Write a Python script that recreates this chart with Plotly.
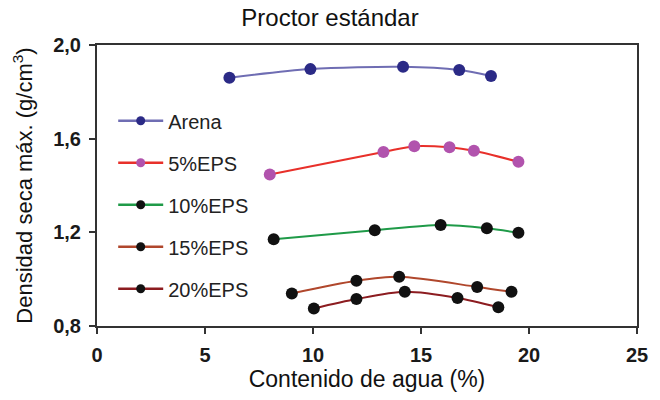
import plotly.graph_objects as go

# Water content (%) and maximum dry density (g/cm3) for each mixture
arena_x = [6.13, 9.88, 14.17, 16.77, 18.24]
arena_y = [1.860, 1.897, 1.907, 1.893, 1.868]

eps5_x = [8.0, 13.26, 14.69, 16.32, 17.45, 19.51]
eps5_y = [1.447, 1.543, 1.568, 1.563, 1.548, 1.501]

eps10_x = [8.18, 12.86, 15.91, 18.05, 19.51]
eps10_y = [1.170, 1.209, 1.231, 1.217, 1.198]

eps15_x = [9.02, 12.01, 13.99, 17.60, 19.19]
eps15_y = [0.939, 0.993, 1.010, 0.967, 0.946]

eps20_x = [10.04, 12.01, 14.25, 16.69, 18.58]
eps20_y = [0.875, 0.915, 0.946, 0.920, 0.880]

series_names = ["Arena", "5%EPS", "10%EPS", "15%EPS", "20%EPS"]
x_ticks = [0, 5, 10, 15, 20, 25]
y_ticks = [0.8, 1.2, 1.6, 2.0]

series = [
    (arena_x, arena_y, "#6f6db3", "#2b2a86"),
    (eps5_x, eps5_y, "#e8302a", "#b153ad"),
    (eps10_x, eps10_y, "#1f9a48", "#111111"),
    (eps15_x, eps15_y, "#b0472c", "#111111"),
    (eps20_x, eps20_y, "#8c1c20", "#111111"),
]

FONT = "Liberation Sans, Arial, sans-serif"

fig = go.Figure()
for name, (xs, ys, lc, mc) in zip(series_names, series):
    # measured curve
    fig.add_trace(go.Scatter(
        x=xs, y=ys, name=name, legendgroup=name, showlegend=False,
        mode="lines+markers",
        line=dict(color=lc, width=2, shape="spline", smoothing=0.8),
        marker=dict(color=mc, size=12),
    ))
    # legend entry with a smaller marker
    fig.add_trace(go.Scatter(
        x=[None], y=[None], name=name, legendgroup=name,
        mode="lines+markers",
        line=dict(color=lc, width=2.5),
        marker=dict(color=mc, size=9),
    ))

axis_common = dict(
    showline=True, linecolor="#333333", linewidth=2, mirror=True,
    ticks="outside", ticklen=6, tickwidth=2, tickcolor="#333333",
    showgrid=False, zeroline=False,
    tickfont=dict(family=FONT, size=20, color="#1a1a1a", weight="bold"),
)

fig.update_layout(
    width=660, height=400,
    margin=dict(l=97, r=17, t=45, b=74),
    paper_bgcolor="white", plot_bgcolor="white",
    separators=",.",
    title=dict(text="Proctor estándar", x=0.5, xanchor="center", y=0.955, yanchor="middle",
               font=dict(family=FONT, size=24, color="#111111")),
    xaxis=dict(range=[0, 25], tickvals=x_ticks, ticklabelstandoff=4,
               title=dict(text="Contenido de agua (%)", standoff=6,
                          font=dict(family=FONT, size=23, color="#111111")),
               **axis_common),
    yaxis=dict(range=[0.8, 2.0], tickvals=y_ticks, tickformat=".1f", ticklabelstandoff=4,
               title=dict(text="Densidad seca máx. (g/cm<sup>3</sup>)", standoff=14,
                          font=dict(family=FONT, size=22, color="#111111")),
               **axis_common),
    legend=dict(x=0.03, y=0.8, xanchor="left", yanchor="top",
                bgcolor="rgba(0,0,0,0)", traceorder="grouped", tracegroupgap=13,
                itemwidth=45,
                font=dict(family=FONT, size=20, color="#222222")),
)

fig.write_html("out.html")
